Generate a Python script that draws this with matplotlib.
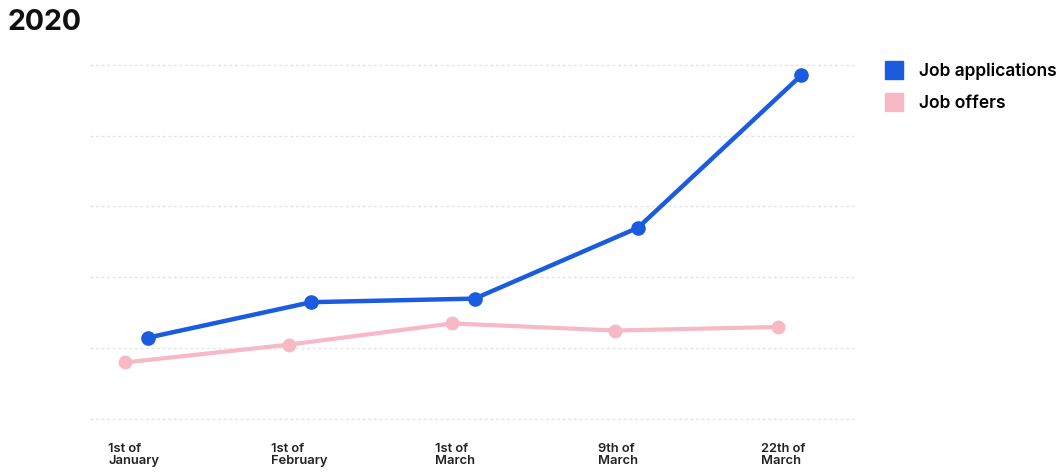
import numpy as np
import matplotlib.pyplot as plt
from matplotlib.lines import Line2D

plt.rcParams['font.family'] = ['Inter', 'DejaVu Sans']

# Data (arbitrary units, gridlines every 20)
dates = ['1st of\nJanuary', '1st of\nFebruary', '1st of\nMarch', '9th of\nMarch', '22th of\nMarch']
job_applications = [23, 33, 34, 54, 97]
job_offers = [16, 21, 27, 25, 26]

blue = '#1a5be0'
pink = '#f7b9c5'

fig = plt.figure(figsize=(10.61, 4.72), dpi=100)
ax = fig.add_axes([0.085, 0.112, 0.721, 0.751])

x = np.arange(len(dates))

# pink series sits a little left of the blue one in the original
ax.plot(x, job_offers, color=pink, lw=3, marker='o', ms=9, clip_on=False, zorder=3)
ax.plot(x + 0.14, job_applications, color=blue, lw=3.2, marker='o', ms=9.5, clip_on=False, zorder=4)

ax.set_xlim(-0.215, 4.47)
ax.set_ylim(0, 100)
ax.set_yticks(np.arange(0, 101, 20))
ax.set_yticklabels([])
ax.grid(axis='y', color='#e4e4e4', lw=1, ls=(0, (2, 2)))
for gl in ax.get_ygridlines():
    gl.set_clip_on(False)
ax.set_axisbelow(True)

ax.set_xticks(x - 0.105)
ax.set_xticklabels(dates, ha='left', fontsize=9.3, fontweight='semibold', color='#222222', linespacing=1.05)
ax.tick_params(axis='both', length=0)
ax.tick_params(axis='x', pad=17)

for s in ax.spines.values():
    s.set_visible(False)

fig.text(0.007, 0.953, '2020', fontsize=20.5, fontweight='bold', color='#111111', va='center', ha='left')

handles = [Line2D([], [], ls='none', marker='s', ms=13.5, color=blue),
           Line2D([], [], ls='none', marker='s', ms=13.5, color=pink)]
fig.legend(handles, ['Job applications', 'Job offers'], loc='upper left',
           bbox_to_anchor=(0.833, 0.867), frameon=False, handletextpad=0.8,
           labelspacing=0.85, prop={'size': 12.5, 'weight': 'semibold'}, handlelength=1.2,
           borderaxespad=0, borderpad=0)

fig.savefig('out.png', dpi=100, facecolor='white')
